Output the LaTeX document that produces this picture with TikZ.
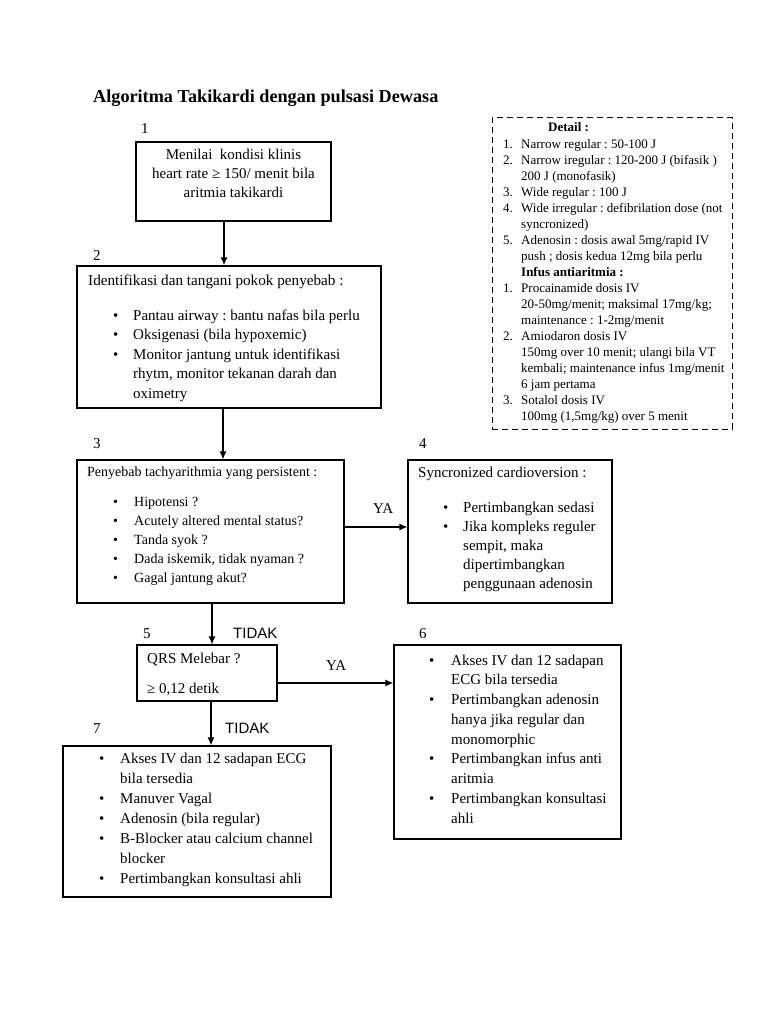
\documentclass[tikz,border=0pt]{standalone}
\usepackage{fontspec}
\setmainfont{Liberation Serif}
\newfontfamily\sansf{Liberation Sans}
\usetikzlibrary{arrows.meta,fit}
\frenchspacing
\newcommand\bu[1]{\makebox[#1][l]{\textbullet}}
\newcommand\ct[1]{\hspace*{#1}}
\newcommand\nm[1]{\makebox[18pt][l]{#1}}
\newcommand\fs[2]{\fontsize{#1}{#2}\selectfont}
\newcommand\tb[4]{\parbox[t]{#1}{\fs{#2}{#3}\raggedright #4}}
\begin{document}
\begin{tikzpicture}[x=1pt,y=-1pt,
  boxst/.style={draw, line width=1.2pt, inner sep=0pt},
  dashbox/.style={draw, line width=1pt, dash pattern=on 6pt off 4pt, inner sep=0pt},
  txt/.style={inner sep=0pt, anchor=base west},
  lbl/.style={inner sep=0pt, anchor=base west, font=\fs{15}{18}},
  arr/.style={line width=1.2pt, -{Latex[length=8pt,width=7pt]}},
]
\useasboundingbox (0,0) rectangle (768,1024);
\fill[white] (0,0) rectangle (768,1024);

% title
\node[txt] (title) at (93,103) {\fs{18.2}{22}\bfseries Algoritma Takikardi dengan pulsasi Dewasa};

% boxes
\node[boxst, fit={(136,142) (331,221)}] (b1) {};
\node[boxst, fit={(77,266) (381,408)}] (b2) {};
\node[boxst, fit={(77,460) (344,603)}] (b3) {};
\node[boxst, fit={(408,460) (612,603)}] (b4) {};
\node[boxst, fit={(137,645) (277,701)}] (b5) {};
\node[boxst, fit={(394,645) (621,839)}] (b6) {};
\node[boxst, fit={(63,746) (331,897)}] (b7) {};
\node[dashbox, fit={(492,118) (732,429)}] (dt) {};

% step numbers
\node[lbl] (n1) at (141,134) {1};
\node[lbl] (n2) at (93,260) {2};
\node[lbl] (n3) at (93,448) {3};
\node[lbl] (n4) at (419,448) {4};
\node[lbl] (n5) at (143,638) {5};
\node[lbl] (n6) at (419,638) {6};
\node[lbl] (n7) at (93,733) {7};

% box 1
\node[inner sep=0pt, anchor=base] (t1) at (233.5,160)
  {\parbox[t]{190pt}{\fs{15}{19}\centering Menilai\ \ kondisi klinis\\ heart rate ≥\ 150/ menit bila\\ aritmia takikardi}};

% box 2
\node[txt] (t2h) at (88,285) {\fs{15.2}{19.6}Identifikasi dan tangani pokok penyebab :};
\node[txt] (t2) at (113,320) {\tb{260pt}{15}{19.5}{%
  \bu{20pt}Pantau airway : bantu nafas bila perlu\\
  \bu{20pt}Oksigenasi (bila hypoxemic)\\
  \bu{20pt}Monitor jantung untuk identifikasi\\
  \ct{20pt}rhytm, monitor tekanan darah dan\\
  \ct{20pt}oximetry}};

% box 3
\node[txt] (t3h) at (87,476) {\fs{14}{19}Penyebab tachyarithmia yang persistent :};
\node[txt] (t3) at (113,506) {\tb{220pt}{14}{19}{%
  \bu{21pt}Hipotensi ?\\
  \bu{21pt}Acutely altered mental status?\\
  \bu{21pt}Tanda syok ?\\
  \bu{21pt}Dada iskemik, tidak nyaman ?\\
  \bu{21pt}Gagal jantung akut?}};

% box 4
\node[txt] (t4h) at (418,477) {\fs{15}{19}Syncronized cardioversion :};
\node[txt] (t4) at (443,512) {\tb{170pt}{15}{19}{%
  \bu{20pt}Pertimbangkan sedasi\\
  \bu{20pt}Jika kompleks reguler\\
  \ct{20pt}sempit, maka\\
  \ct{20pt}dipertimbangkan\\
  \ct{20pt}penggunaan adenosin}};

% box 5
\node[txt] (t5a) at (147,663) {\fs{15}{19}QRS Melebar ?};
\node[txt] (t5b) at (147,693) {\fs{15}{19}≥ 0,12 detik};

% box 6
\node[txt] (t6) at (429,665) {\tb{190pt}{15}{19.75}{%
  \bu{22pt}Akses IV dan 12 sadapan\\
  \ct{22pt}ECG bila tersedia\\
  \bu{22pt}Pertimbangkan adenosin\\
  \ct{22pt}hanya jika regular dan\\
  \ct{22pt}monomorphic\\
  \bu{22pt}Pertimbangkan infus anti\\
  \ct{22pt}aritmia\\
  \bu{22pt}Pertimbangkan konsultasi\\
  \ct{22pt}ahli}};

% box 7
\node[txt] (t7) at (99,763) {\tb{230pt}{15}{20}{%
  \bu{21pt}Akses IV dan 12 sadapan ECG\\
  \ct{21pt}bila tersedia\\
  \bu{21pt}Manuver Vagal\\
  \bu{21pt}Adenosin (bila regular)\\
  \bu{21pt}B-Blocker atau calcium channel\\
  \ct{21pt}blocker\\
  \bu{21pt}Pertimbangkan konsultasi ahli}};

% detail box
\node[txt] (tdh) at (548,132) {\fs{13}{16}\bfseries Detail :};
\node[txt] (td) at (503,149) {\tb{230pt}{13}{16}{%
  \nm{1.}Narrow regular : 50-100 J\\
  \nm{2.}Narrow iregular : 120-200 J (bifasik )\\
  \ct{18pt}200 J (monofasik)\\
  \nm{3.}Wide regular : 100 J\\
  \nm{4.}Wide irregular : defibrilation dose (not\\
  \ct{18pt}syncronized)\\
  \nm{5.}Adenosin : dosis awal 5mg/rapid IV\\
  \ct{18pt}push ; dosis kedua 12mg bila perlu\\
  \ct{18pt}\textbf{Infus antiaritmia :}\\
  \nm{1.}Procainamide dosis IV\\
  \ct{18pt}20-50mg/menit; maksimal 17mg/kg;\\
  \ct{18pt}maintenance : 1-2mg/menit\\
  \nm{2.}Amiodaron dosis IV\\
  \ct{18pt}150mg over 10 menit; ulangi bila VT\\
  \ct{18pt}kembali; maintenance infus 1mg/menit\\
  \ct{18pt}6 jam pertama\\
  \nm{3.}Sotalol dosis IV\\
  \ct{18pt}100mg (1,5mg/kg) over 5 menit}};

% connector labels
\node[txt] (ya1) at (373,513) {\fs{15}{18}YA};
\node[txt] (ya2) at (326,670) {\fs{15}{18}YA};
\node[txt] (td1) at (233,638) {\fs{15}{18}\sansf TIDAK};
\node[txt] (td2) at (225,733) {\fs{15}{18}\sansf TIDAK};

% connectors
\coordinate (c1) at ([xshift=-9.5pt]b1.south);
\draw[arr] (c1) -- (c1 |- b2.north);
\coordinate (c2) at ([xshift=-6pt]b2.south);
\draw[arr] (c2) -- (c2 |- b3.north);
\coordinate (c3) at ([yshift=4.5pt]b3.east);
\draw[arr] (c3) -- (c3 -| b4.west);
\coordinate (c4) at ([xshift=1.5pt]b3.south);
\draw[arr] (c4) -- (c4 |- b5.north);
\coordinate (c5) at ([yshift=-10pt]b5.east);
\draw[arr] (c5) -- (c5 -| b6.west);
\coordinate (c6) at ([xshift=4pt]b5.south);
\draw[arr] (c6) -- (c6 |- b7.north);
\end{tikzpicture}
\end{document}
